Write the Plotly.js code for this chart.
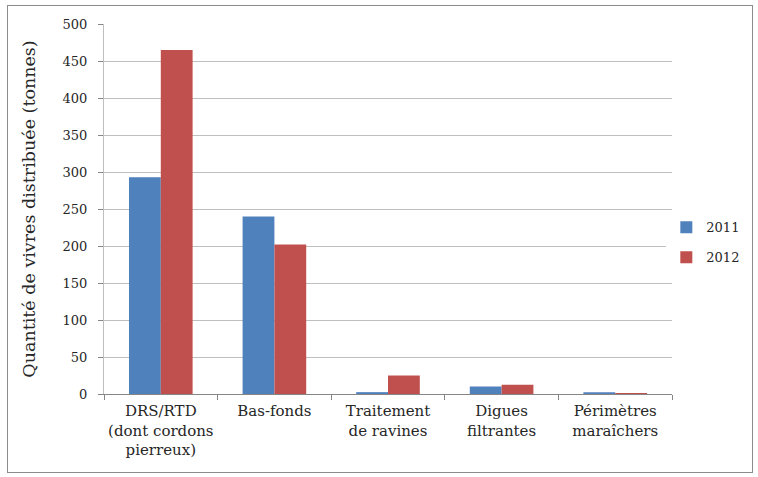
<!DOCTYPE html>
<html>
<head>
<meta charset="utf-8">
<script src="https://cdn.plot.ly/plotly-3.0.1.min.js"></script>
<style>
  html, body { margin: 0; padding: 0; background: #fff; }
  #wrap { position: relative; width: 758px; height: 477px; }
  #chart { position: absolute; left: 0; top: 0; width: 758px; height: 477px; }
  #frame { position: absolute; left: 7px; top: 5px; width: 744px; height: 466px; border: 1px solid #8c8c8c; pointer-events: none; }
</style>
</head>
<body>
<div id="wrap">
  <div id="chart"></div>
  <div id="frame"></div>
</div>
<script>
const categories = [
  "DRS/RTD<br>(dont cordons<br>pierreux)",
  "Bas-fonds",
  "Traitement<br>de ravines",
  "Digues<br>filtrantes",
  "Périmètres<br>maraîchers"
];
const values2011 = [293, 240, 2.5, 10, 2.3];
const values2012 = [465, 202, 25, 12.5, 1.5];
const yTickVals = [0, 50, 100, 150, 200, 250, 300, 350, 400, 450, 500];

const serif = "'DejaVu Serif', 'Liberation Serif', serif";

const traces = [
  { type: "bar", name: "2011", legendgroup: "g2011", x: categories, y: values2011, marker: { color: "#4F81BD" } },
  { type: "bar", name: "2012", legendgroup: "g2012", x: categories, y: values2012, marker: { color: "#C0504D" } }
];

const layout = {
  width: 758, height: 477,
  margin: { l: 104, r: 86, t: 24, b: 83 },
  paper_bgcolor: "#ffffff", plot_bgcolor: "#ffffff",
  barmode: "group", bargap: 0.44, bargroupgap: 0,
  font: { family: serif, color: "#262626", size: 13 },
  showlegend: true,
  legend: {
    x: 0.99, y: 0.41, xanchor: "left", yanchor: "middle",
    traceorder: "grouped",
    font: { family: serif, size: 13, color: "#262626" },
    itemwidth: 30, tracegroupgap: 10
  },
  xaxis: {
    type: "category",
    tickson: "boundaries",
    tickangle: 0,
    ticks: "outside", ticklen: 5, tickcolor: "#868686",
    showline: true, linecolor: "#868686", linewidth: 1,
    showgrid: false,
    automargin: false,
    ticklabelstandoff: 3,
    tickfont: { family: serif, size: 15, color: "#262626" }
  },
  yaxis: {
    range: [0, 500],
    tickvals: yTickVals,
    ticks: "outside", ticklen: 5, tickcolor: "#868686",
    showline: true, linecolor: "#bfbfbf", linewidth: 1,
    showgrid: true, gridcolor: "#bfbfbf", gridwidth: 1,
    zeroline: false,
    automargin: false,
    ticklabelstandoff: 8,
    tickfont: { family: serif, size: 13, color: "#262626" },
    title: { text: "Quantité de vivres distribuée (tonnes)", font: { family: serif, size: 17.5, color: "#262626" }, standoff: 22 }
  }
};

Plotly.newPlot("chart", traces, layout, { displayModeBar: false, staticPlot: true });
</script>
</body>
</html>
